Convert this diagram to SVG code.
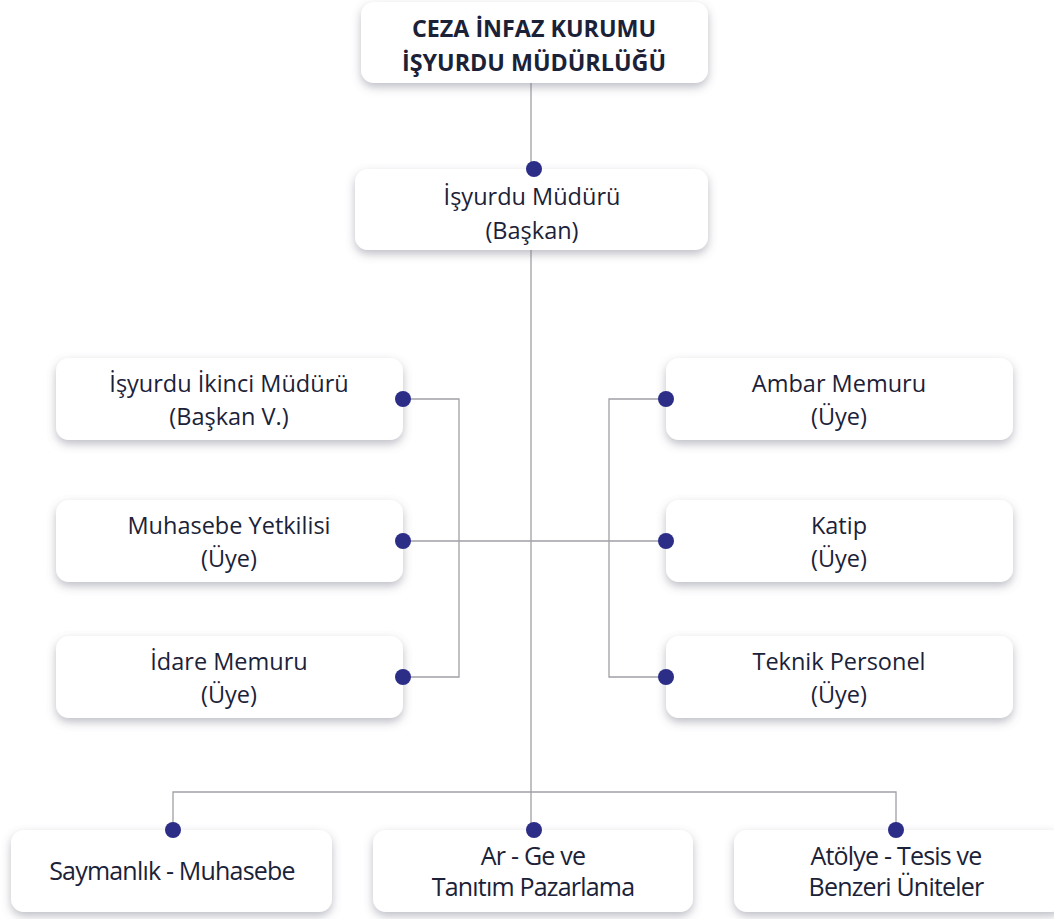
<svg xmlns="http://www.w3.org/2000/svg" width="1054" height="919" viewBox="0 0 1054 919">
<defs>
<filter id="sh" x="-10%" y="-30%" width="120%" height="170%">
<feDropShadow dx="0" dy="4" stdDeviation="5" flood-color="#6b7080" flood-opacity="0.45"/>
</filter>
</defs>
<style>
.box{fill:#fff;filter:url(#sh)}
.t{font-family:"Open Sans","Noto Sans",sans-serif;font-size:23.5px;fill:#1b2238;text-anchor:middle}
.tb{font-family:"Open Sans","Noto Sans",sans-serif;font-size:23.3px;font-weight:bold;fill:#1b2238;text-anchor:middle}
.tc{font-family:"Open Sans","Noto Sans",sans-serif;font-size:25px;fill:#1b2238;text-anchor:middle;letter-spacing:-0.8px}
.ln{fill:none;stroke:#a0a0a6;stroke-width:1.3}
.dot{fill:#2b2d87}
</style>
<rect width="1054" height="919" fill="#fff"/>
<g id="connectors">
<path class="ln" d="M531 83V169M531 250V830"/>
<path class="ln" d="M403 399H459V677H403M403 541H666M666 399H609V677H666"/>
<path class="ln" d="M173 830V792H896V830"/>
</g>
<g id="n-top"><rect class="box" x="361" y="2" width="347" height="81" rx="13"/>
<text class="tb" x="534" y="37">CEZA İNFAZ KURUMU</text><text class="tb" x="534" y="71">İŞYURDU MÜDÜRLÜĞÜ</text></g>
<g id="n-mudur"><rect class="box" x="355" y="169" width="353" height="81" rx="13"/>
<text class="t" x="532" y="205">İşyurdu Müdürü</text><text class="t" x="532" y="239">(Başkan)</text></g>
<g id="n-ikinci"><rect class="box" x="56" y="358" width="347" height="82" rx="13"/>
<text class="t" x="229" y="392">İşyurdu İkinci Müdürü</text><text class="t" x="229" y="425">(Başkan V.)</text></g>
<g id="n-muhasebe"><rect class="box" x="56" y="500" width="347" height="82" rx="13"/>
<text class="t" x="229" y="534">Muhasebe Yetkilisi</text><text class="t" x="229" y="567">(Üye)</text></g>
<g id="n-idare"><rect class="box" x="56" y="636" width="347" height="82" rx="13"/>
<text class="t" x="229" y="670">İdare Memuru</text><text class="t" x="229" y="703">(Üye)</text></g>
<g id="n-ambar"><rect class="box" x="666" y="358" width="347" height="82" rx="13"/>
<text class="t" x="839" y="392">Ambar Memuru</text><text class="t" x="839" y="425">(Üye)</text></g>
<g id="n-katip"><rect class="box" x="666" y="500" width="347" height="82" rx="13"/>
<text class="t" x="839" y="534">Katip</text><text class="t" x="839" y="567">(Üye)</text></g>
<g id="n-teknik"><rect class="box" x="666" y="636" width="347" height="82" rx="13"/>
<text class="t" x="839" y="670">Teknik Personel</text><text class="t" x="839" y="703">(Üye)</text></g>
<g id="n-sayman"><rect class="box" x="11" y="830" width="321" height="82" rx="13"/>
<text class="tc" x="172" y="880">Saymanlık - Muhasebe</text></g>
<g id="n-arge"><rect class="box" x="373" y="830" width="320" height="82" rx="13"/>
<text class="tc" x="533" y="865">Ar - Ge ve</text><text class="tc" x="533" y="896">Tanıtım Pazarlama</text></g>
<g id="n-atolye"><rect class="box" x="734" y="830" width="330" height="82" rx="13"/>
<text class="tc" x="896" y="865">Atölye - Tesis ve</text><text class="tc" x="896" y="896">Benzeri Üniteler</text></g>
<g id="connector-dots">
<circle class="dot" cx="534" cy="169" r="8"/>
<circle class="dot" cx="403" cy="399" r="8"/>
<circle class="dot" cx="403" cy="541" r="8"/>
<circle class="dot" cx="403" cy="677" r="8"/>
<circle class="dot" cx="666" cy="399" r="8"/>
<circle class="dot" cx="666" cy="541" r="8"/>
<circle class="dot" cx="666" cy="677" r="8"/>
<circle class="dot" cx="173" cy="830" r="8"/>
<circle class="dot" cx="534" cy="830" r="8"/>
<circle class="dot" cx="896" cy="830" r="8"/>
</g>
</svg>
